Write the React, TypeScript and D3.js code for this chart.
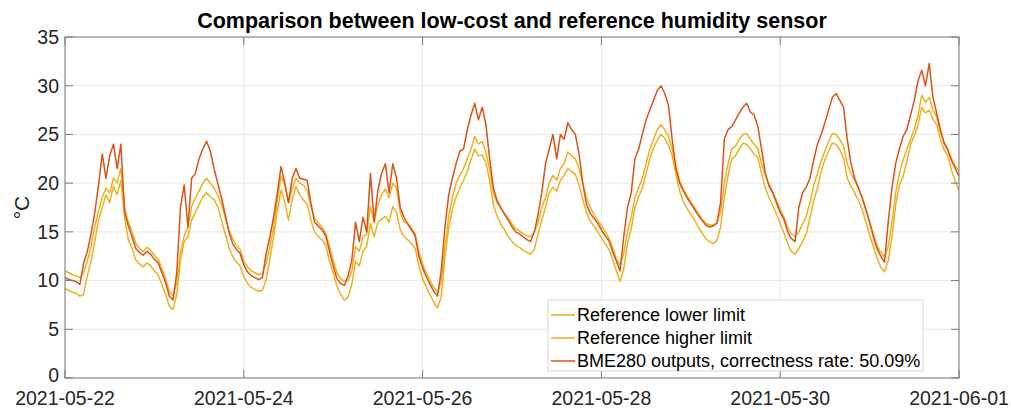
import React from 'react';
import * as d3 from 'd3';

const title = 'Comparison between low-cost and reference humidity sensor';
const yLabel = '°C';
const startDate = '2021-05-22';
const endDate = '2021-06-01';
const stepHours = 1;
const xTickDates = ['2021-05-22', '2021-05-24', '2021-05-26', '2021-05-28', '2021-05-30', '2021-06-01'];
const yTicks = [0, 5, 10, 15, 20, 25, 30, 35];
const seriesNames = ['Reference lower limit', 'Reference higher limit', 'BME280 outputs, correctness rate: 50.09%'];

// hourly values, 2021-05-22 00:00 .. 2021-06-01 00:00
const refLower = [
  9.2, 9.0, 8.8, 8.7, 8.4, 8.6, 10.5, 12.0, 14.0, 16.2, 17.5, 18.8, 18.0, 19.7, 18.8, 20.3, 16.5, 14.2, 13.3, 12.1, 11.7, 11.4, 11.8, 11.5,
  11.0, 10.6, 9.6, 8.6, 7.4, 7.0, 8.6, 12.1, 14.0, 14.5, 16.2, 17.0, 17.8, 18.6, 19.0, 18.6, 18.3, 17.6, 16.2, 14.8, 13.4, 12.5, 11.9, 11.5,
  10.4, 9.7, 9.3, 9.1, 8.9, 9.0, 10.1, 12.2, 14.5, 17.2, 19.3, 18.0, 16.2, 18.3, 19.7, 18.8, 18.3, 17.8, 16.2, 15.0, 14.5, 14.2, 13.6, 12.0,
  10.8, 9.4, 8.6, 8.0, 8.3, 9.6, 12.0, 11.5, 13.0, 13.5, 15.9, 14.5, 16.0, 16.3, 16.6, 16.0, 17.6, 17.0, 15.2, 14.5, 14.2, 13.8, 13.3, 11.5,
  10.2, 9.3, 8.5, 7.8, 7.2, 8.3, 12.5, 15.3, 17.3, 18.6, 19.5, 20.3, 21.2, 22.4, 23.5, 22.8, 22.9, 22.1, 20.2, 17.8, 16.6, 15.8, 15.2, 14.5,
  14.0, 13.6, 13.4, 13.1, 12.9, 12.7, 13.2, 14.8, 16.2, 17.5, 19.0, 19.6, 19.2, 20.3, 20.8, 21.5, 21.2, 20.9, 19.8, 18.3, 17.0, 16.1, 15.6, 15.0,
  14.4, 13.8, 13.2, 12.2, 11.0, 9.9, 11.2, 13.8, 15.3, 17.5, 18.6, 19.5, 21.0, 22.5, 23.6, 24.4, 25.0, 24.6, 23.9, 22.8, 20.9, 19.2, 18.1, 17.4,
  16.8, 16.2, 15.5, 14.9, 14.3, 14.0, 13.8, 14.1, 15.5, 18.5, 20.8, 22.5, 22.8, 23.5, 24.1, 24.0, 23.5, 23.0, 22.6, 21.0, 19.5, 18.5, 17.7, 16.8,
  15.8, 14.9, 13.8, 13.0, 12.7, 13.3, 14.0, 14.8, 16.5, 18.2, 19.5, 21.2, 22.4, 23.3, 24.1, 24.0, 23.4, 22.6, 20.5, 19.7, 19.0, 18.2, 17.3, 16.0,
  14.7, 13.5, 12.3, 11.4, 10.9, 12.0, 14.5, 17.8, 19.8, 20.7, 22.2, 24.0, 24.8, 26.0, 27.8, 27.2, 27.5, 26.6, 26.0, 24.5, 23.4, 22.8, 21.3, 20.2,
  19.2,
];

const refHigher = [
  11.0, 10.8, 10.6, 10.5, 10.3, 10.8, 12.0, 13.5, 15.5, 17.2, 18.5, 19.5, 19.0, 20.5, 20.0, 21.5, 17.5, 16.0, 15.0, 13.8, 13.3, 13.0, 13.4, 13.1,
  12.6, 12.2, 11.2, 10.2, 8.9, 8.4, 9.8, 12.8, 14.6, 15.5, 17.6, 18.5, 19.2, 20.0, 20.5, 20.0, 19.5, 18.8, 17.8, 16.5, 15.2, 14.3, 13.6, 13.2,
  12.0, 11.4, 11.0, 10.8, 10.6, 10.7, 11.8, 13.5, 15.5, 18.3, 20.7, 19.8, 18.0, 19.5, 20.5, 20.0, 19.8, 19.3, 17.6, 16.4, 15.9, 15.5, 14.9, 13.5,
  12.1, 10.8, 10.2, 9.9, 10.0, 11.0, 13.5, 13.0, 14.5, 14.8, 17.6, 16.0, 17.8, 18.8, 19.4, 18.5, 20.0, 19.5, 17.0, 16.0, 15.9, 15.4, 14.8, 13.0,
  11.7, 10.8, 10.0, 9.3, 8.8, 9.8, 13.5, 16.5, 18.5, 20.0, 20.8, 21.5, 22.5, 23.5, 24.8, 24.0, 24.3, 23.1, 21.5, 19.0, 18.0, 17.4, 16.9, 16.4,
  15.8, 15.3, 15.1, 14.8, 14.6, 14.5, 15.0, 16.0, 17.5, 18.5, 20.0, 20.8, 20.3, 21.5, 22.0, 23.2, 22.8, 22.5, 21.5, 20.0, 18.5, 17.5, 16.8, 16.2,
  15.6, 15.0, 14.4, 13.4, 12.2, 11.6, 12.8, 15.0, 16.5, 18.5, 19.5, 20.5, 22.0, 23.5, 24.5, 25.5, 26.0, 25.5, 24.8, 23.5, 21.8, 20.2, 19.4, 18.7,
  18.1, 17.5, 16.9, 16.3, 15.9, 15.7, 15.7, 15.9, 17.0, 20.0, 22.0, 23.5, 23.8, 24.5, 25.0, 25.1, 24.5, 24.0, 23.5, 22.0, 20.8, 19.9, 19.1, 18.2,
  17.3, 16.5, 15.4, 14.8, 14.5, 15.0, 15.8, 16.6, 18.0, 19.8, 21.0, 22.3, 23.3, 24.3, 25.1, 25.0, 24.5, 23.8, 22.0, 21.0, 20.3, 19.4, 18.6, 17.2,
  16.0, 14.8, 13.6, 12.9, 12.4, 13.5, 16.0, 19.0, 21.0, 22.4, 23.5, 24.5, 25.5, 27.0, 29.0, 28.3, 28.8, 27.5, 26.8, 25.2, 24.2, 23.5, 22.5, 21.8,
  21.2,
];

const bme280 = [
  10.3, 10.1, 10.0, 9.9, 9.6, 11.8, 13.0, 14.8, 17.0, 19.8, 23.0, 20.5, 22.8, 24.0, 21.5, 24.0, 17.0, 15.6, 14.5, 13.3, 12.9, 12.6, 13.0, 12.7,
  12.2, 11.8, 10.8, 9.8, 8.4, 8.0, 10.8, 17.5, 19.8, 15.5, 20.5, 21.0, 22.5, 23.5, 24.3, 23.3, 21.5, 20.0, 18.5, 16.8, 15.0, 13.8, 13.2, 12.8,
  11.6, 10.9, 10.5, 10.3, 10.1, 10.3, 12.8, 14.5, 16.5, 19.0, 21.7, 20.0, 18.0, 20.5, 21.5, 20.5, 20.4, 20.3, 18.0, 16.0, 15.6, 15.2, 14.6, 13.0,
  11.5, 10.2, 9.7, 9.5, 10.5, 12.1, 16.0, 14.0, 16.5, 15.0, 21.0, 16.0, 19.3, 21.0, 22.0, 19.0, 22.0, 20.5, 17.5, 16.5, 15.8, 15.2, 14.6, 12.5,
  11.3, 10.4, 9.6, 8.9, 8.4, 11.0, 15.5, 18.8, 20.5, 22.0, 23.3, 23.5, 25.5, 27.0, 28.2, 26.5, 27.8, 26.0, 22.5, 19.5, 18.2, 17.5, 16.8, 16.2,
  15.5, 15.0, 14.8, 14.5, 14.2, 14.0, 15.0, 16.8, 19.0, 22.0, 23.5, 25.0, 22.5, 25.0, 24.5, 26.2, 25.5, 25.0, 23.0, 20.0, 17.8, 16.9, 16.4, 15.9,
  15.2, 14.6, 14.1, 13.0, 12.0, 11.0, 14.5, 17.5, 19.0, 22.5, 23.5, 25.0, 26.5, 27.5, 28.5, 29.5, 30.0, 29.2, 28.0, 24.5, 21.5, 20.0, 19.2, 18.5,
  17.9, 17.3, 16.7, 16.2, 15.7, 15.5, 15.6, 15.9, 18.0, 24.5, 25.5, 25.8, 26.5, 27.2, 27.8, 28.2, 27.3, 27.0, 25.8, 23.5, 21.0, 19.7, 19.0, 18.0,
  17.0, 16.3, 15.0, 14.3, 14.0, 17.5, 19.0, 19.6, 20.5, 22.4, 24.0, 25.0, 26.2, 27.5, 28.8, 29.2, 28.5, 27.8, 24.5, 22.0, 20.5, 19.5, 18.5, 17.3,
  16.0, 14.5, 13.3, 12.5, 11.9, 16.0, 19.5, 22.0, 23.5, 24.8, 25.5, 27.0, 28.5, 30.5, 31.6, 30.0, 32.3, 28.8, 27.2, 25.5, 24.1, 23.4, 22.3, 21.5,
  20.7,
];

const COLORS = ['#EDB120', '#EDB120', '#D95319'];
const FONT = '"Liberation Sans", Arial, Helvetica, sans-serif';

export default function App() {
  const W = 1011;
  const H = 410;
  const m = { l: 65, r: 52, t: 37, b: 32 };
  const parse = d3.utcParse('%Y-%m-%d');
  const fmt = d3.utcFormat('%Y-%m-%d');
  const t0 = parse(startDate)!;
  const x = d3.scaleUtc().domain([t0, parse(endDate)!]).range([m.l, W - m.r]);
  const y = d3.scaleLinear().domain([0, 35]).range([H - m.b, m.t]);
  const toPts = (arr: number[]) =>
    arr.map((v, i) => [new Date(t0.getTime() + i * stepHours * 3600000), v] as [Date, number]);
  const line = d3
    .line<[Date, number]>()
    .x((d) => x(d[0]))
    .y((d) => y(d[1]));
  const series = [refLower, refHigher, bme280];
  const xt = xTickDates.map((s) => parse(s)!);
  const x0 = m.l;
  const x1 = W - m.r;
  const y0 = H - m.b;
  const y1 = m.t;
  const axisCol = '#7a7a7a';
  const gridCol = '#e8e8e8';
  const tickLen = 8;

  const lg = { x: 548, y: 300, w: 375, h: 71, row: 23 };

  return (
    <svg width={W} height={H} style={{ position: 'absolute', left: 0, top: 0, background: '#fff' }} fontFamily={FONT}>
      <defs>
        <clipPath id="plot">
          <rect x={x0} y={y1} width={x1 - x0} height={y0 - y1} />
        </clipPath>
      </defs>
      <rect x={0} y={0} width={W} height={H} fill="#fff" />
      {/* grid */}
      {yTicks.map((t) => (
        <line key={'gy' + t} x1={x0} x2={x1} y1={y(t)} y2={y(t)} stroke={gridCol} strokeWidth={1} />
      ))}
      {xt.map((d, i) => (
        <line key={'gx' + i} x1={x(d)} x2={x(d)} y1={y0} y2={y1} stroke={gridCol} strokeWidth={1} />
      ))}
      {/* data */}
      <g clipPath="url(#plot)">
        {series.map((s, i) => (
          <path
            key={i}
            d={line(toPts(s)) || ''}
            fill="none"
            stroke={COLORS[i]}
            strokeWidth={1.5}
            strokeLinejoin="round"
          />
        ))}
      </g>
      {/* box */}
      <rect x={x0} y={y1} width={x1 - x0} height={y0 - y1} fill="none" stroke={axisCol} strokeWidth={1} />
      {/* ticks */}
      {yTicks.map((t) => (
        <g key={'ty' + t}>
          <line x1={x0} x2={x0 + tickLen} y1={y(t)} y2={y(t)} stroke={axisCol} />
          <line x1={x1} x2={x1 - tickLen} y1={y(t)} y2={y(t)} stroke={axisCol} />
          <text x={x0 - 6} y={y(t) - (t === 0 ? 3 : 0)} dy="0.35em" textAnchor="end" fontSize={19.5} fill="#262626">
            {t}
          </text>
        </g>
      ))}
      {xt.map((d, i) => (
        <g key={'tx' + i}>
          <line x1={x(d)} x2={x(d)} y1={y0} y2={y0 - tickLen} stroke={axisCol} />
          <line x1={x(d)} x2={x(d)} y1={y1} y2={y1 + tickLen} stroke={axisCol} />
          <text x={x(d)} y={405} textAnchor="middle" fontSize={19.5} fill="#262626">
            {fmt(d)}
          </text>
        </g>
      ))}
      {/* y label */}
      <text
        transform={`translate(29,${(y0 + y1) / 2}) rotate(-90)`}
        textAnchor="middle"
        fontSize={21}
        fill="#262626"
      >
        {yLabel}
      </text>
      {/* title */}
      <text x={(x0 + x1) / 2} y={28} textAnchor="middle" fontSize={21.5} fontWeight="bold" fill="#000">
        {title}
      </text>
      {/* legend */}
      <rect x={lg.x} y={lg.y} width={lg.w} height={lg.h} fill="#fff" stroke="#d6d6d6" strokeWidth={1} />
      {seriesNames.map((n, i) => {
        const cy = lg.y + 15 + i * lg.row;
        return (
          <g key={'lg' + i}>
            <line x1={lg.x + 3} x2={lg.x + 27} y1={cy} y2={cy} stroke={COLORS[i]} strokeWidth={1.5} />
            <text x={lg.x + 29} y={cy} dy="0.35em" fontSize={18} fill="#000">
              {n}
            </text>
          </g>
        );
      })}
    </svg>
  );
}
